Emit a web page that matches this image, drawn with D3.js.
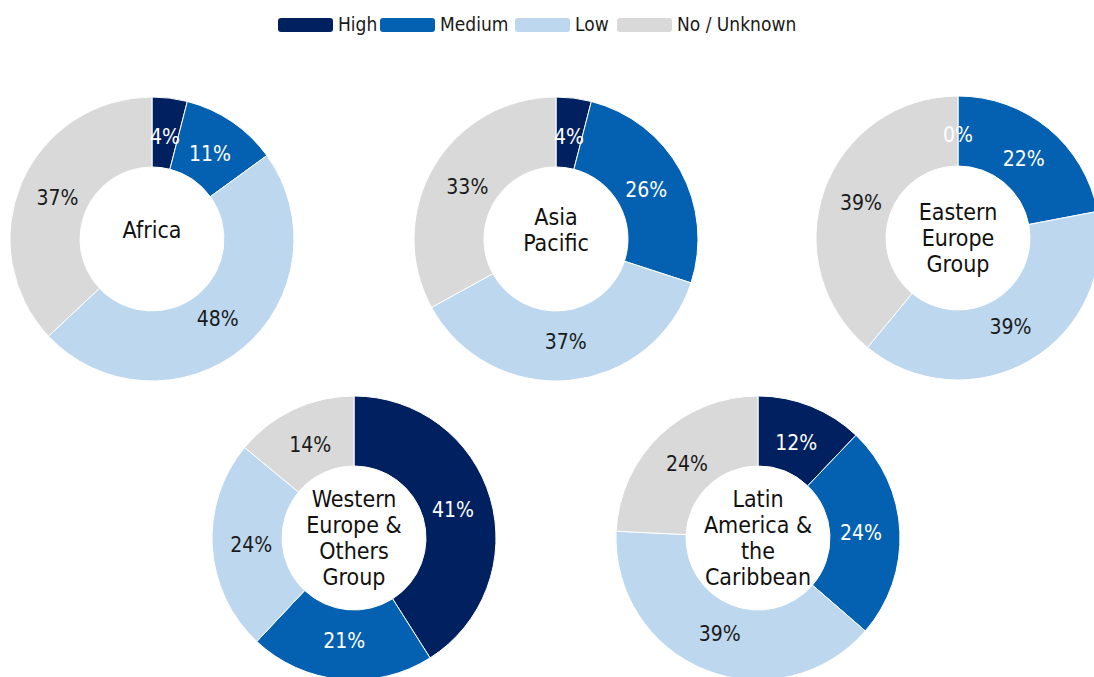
<!DOCTYPE html>
<html>
<head>
<meta charset="utf-8">
<script src="https://cdn.jsdelivr.net/npm/d3@7"></script>
<style>
  body { margin: 0; background: #fff; }
  svg { display: block; font-family: "Liberation Sans Narrow", "Arial Narrow", "DejaVu Sans Condensed", sans-serif; }
</style>
</head>
<body>
<div class="chart"></div>
<script>
// categories + colours
const levels = ["High", "Medium", "Low", "No / Unknown"];
const colors = ["#002060", "#0461b2", "#bdd7ee", "#d9d9d9"];

// regions (center label lines)
const regions = [
  ["Africa"],
  ["Asia", "Pacific"],
  ["Eastern", "Europe", "Group"],
  ["Western", "Europe &", "Others", "Group"],
  ["Latin", "America &", "the", "Caribbean"]
];

// percent values per region, order: High, Medium, Low, No / Unknown
const africa = [4, 11, 48, 37];
const asiaPacific = [4, 26, 37, 33];
const easternEurope = [0, 22, 39, 39];
const westernEurope = [41, 21, 24, 14];
const latinAmerica = [12, 24, 39, 24];
const values = [africa, asiaPacific, easternEurope, westernEurope, latinAmerica];

const width = 1094, height = 677;
const svg = d3.select('.chart').append('svg')
  .attr('width', width)
  .attr('height', height);

//Legend
const legend = svg.append('g').attr('class', 'legend');
const legendX = [278, 380, 515, 617];
const legendItems = legend.selectAll('g')
  .data(levels)
  .enter()
  .append('g')
  .attr('transform', (d, i) => `translate(${legendX[i]},18)`);
legendItems.append('rect')
  .attr('width', 55)
  .attr('height', 14)
  .attr('rx', 3)
  .attr('fill', (d, i) => colors[i]);
legendItems.append('text')
  .attr('x', 60)
  .attr('y', 13)
  .attr('font-size', '19px')
  .attr('fill', '#1a1a1a')
  .text(d => d);

//Layout of the donuts: 3 on top, 2 below
const rOuter = 142, rInner = 72;
const centers = [
  [152, 239], [556, 239], [958, 238],
  [354, 538], [758, 538]
];

const pie = d3.pie().sort(null).value(d => d);
const arc = d3.arc().innerRadius(rInner).outerRadius(rOuter);
const labelArc = d3.arc().innerRadius(103).outerRadius(103);

values.forEach((vals, k) => {
  const g = svg.append('g')
    .attr('transform', `translate(${centers[k][0]},${centers[k][1]})`);

  const slices = pie(vals);

  g.selectAll('path')
    .data(slices)
    .enter()
    .append('path')
    .attr('d', arc)
    .attr('fill', (d, i) => colors[i])
    .attr('stroke', '#fff')
    .attr('stroke-width', 1);

  // percent labels
  g.selectAll('.pct')
    .data(slices)
    .enter()
    .append('text')
    .attr('class', 'pct')
    .attr('transform', d => {
      const c = labelArc.centroid(d);
      return `translate(${c[0]},${c[1]})`;
    })
    .attr('text-anchor', 'middle')
    .attr('dy', '0.35em')
    .attr('font-size', '21px')
    .attr('fill', (d, i) => i < 2 ? '#fff' : '#1a1a1a')
    .text(d => d.data + '%');

  // region name in the hole (short names sit a bit high, like the original)
  const lines = regions[k];
  const lh = 26;
  const shift = lines.length < 3 ? -9 : 0;
  g.append('text')
    .attr('text-anchor', 'middle')
    .attr('font-size', '23px')
    .attr('fill', '#111')
    .selectAll('tspan')
    .data(lines)
    .enter()
    .append('tspan')
    .attr('x', 0)
    .attr('y', (d, i) => (i - (lines.length - 1) / 2) * lh + shift)
    .attr('dy', '0.35em')
    .text(d => d);
});
</script>
</body>
</html>
